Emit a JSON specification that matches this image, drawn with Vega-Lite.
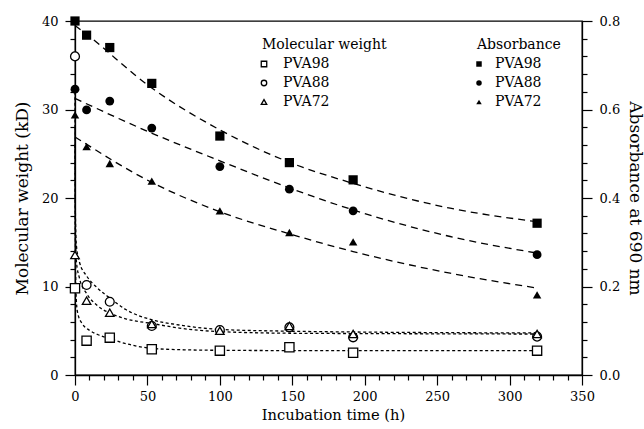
{
  "$schema": "https://vega.github.io/schema/vega-lite/v6.json",
  "width": 507,
  "height": 354,
  "autosize": {"type": "none"},
  "padding": {"left": 75, "top": 21, "right": 62, "bottom": 54},
  "background": "white",
  "config": {
    "font": "DejaVu Serif",
    "view": {"stroke": "black", "strokeWidth": 1.3},
    "axis": {
      "grid": false,
      "domainColor": "black",
      "domainWidth": 1.3,
      "tickColor": "black",
      "tickWidth": 1.2,
      "labelColor": "black",
      "labelFont": "DejaVu Serif",
      "labelFontSize": 13,
      "labelFlush": false,
      "labelOverlap": false,
      "titleColor": "black",
      "titleFont": "DejaVu Serif",
      "titleFontWeight": "normal"
    },
    "legend": {
      "orient": "none",
      "labelFont": "DejaVu Serif",
      "labelFontSize": 14,
      "labelColor": "black",
      "titleFont": "DejaVu Serif",
      "titleFontSize": 14,
      "titleFontWeight": "normal",
      "titleColor": "black",
      "symbolSize": 30,
      "symbolStrokeWidth": 1.3,
      "symbolOffset": -5,
      "rowPadding": 5,
      "titlePadding": 5,
      "padding": 0
    }
  },
  "datasets": {
    "mw_points": [
      {"t": 0, "value": 9.8, "polymer": "PVA98"},
      {"t": 8, "value": 3.88, "polymer": "PVA98"},
      {"t": 24, "value": 4.22, "polymer": "PVA98"},
      {"t": 53, "value": 2.9, "polymer": "PVA98"},
      {"t": 100, "value": 2.75, "polymer": "PVA98"},
      {"t": 148, "value": 3.13, "polymer": "PVA98"},
      {"t": 192, "value": 2.52, "polymer": "PVA98"},
      {"t": 319, "value": 2.75, "polymer": "PVA98"},
      {"t": 0, "value": 36.0, "polymer": "PVA88"},
      {"t": 8, "value": 10.17, "polymer": "PVA88"},
      {"t": 24, "value": 8.28, "polymer": "PVA88"},
      {"t": 53, "value": 5.54, "polymer": "PVA88"},
      {"t": 100, "value": 5.08, "polymer": "PVA88"},
      {"t": 148, "value": 5.39, "polymer": "PVA88"},
      {"t": 192, "value": 4.26, "polymer": "PVA88"},
      {"t": 319, "value": 4.33, "polymer": "PVA88"},
      {"t": 0, "value": 13.56, "polymer": "PVA72"},
      {"t": 8, "value": 8.4, "polymer": "PVA72"},
      {"t": 24, "value": 7.04, "polymer": "PVA72"},
      {"t": 53, "value": 5.76, "polymer": "PVA72"},
      {"t": 100, "value": 5.0, "polymer": "PVA72"},
      {"t": 148, "value": 5.54, "polymer": "PVA72"},
      {"t": 192, "value": 4.63, "polymer": "PVA72"},
      {"t": 319, "value": 4.63, "polymer": "PVA72"}
    ],
    "mw_fit": [
      {"t": 0, "value": 26, "polymer": "PVA98"},
      {"t": 0.4, "value": 12, "polymer": "PVA98"},
      {"t": 1, "value": 8.2, "polymer": "PVA98"},
      {"t": 2, "value": 6.9, "polymer": "PVA98"},
      {"t": 5, "value": 5.8, "polymer": "PVA98"},
      {"t": 10, "value": 5.05, "polymer": "PVA98"},
      {"t": 16, "value": 4.55, "polymer": "PVA98"},
      {"t": 24, "value": 4.1, "polymer": "PVA98"},
      {"t": 40, "value": 3.35, "polymer": "PVA98"},
      {"t": 54, "value": 3.0, "polymer": "PVA98"},
      {"t": 75, "value": 2.85, "polymer": "PVA98"},
      {"t": 100, "value": 2.79, "polymer": "PVA98"},
      {"t": 150, "value": 2.76, "polymer": "PVA98"},
      {"t": 320, "value": 2.75, "polymer": "PVA98"},
      {"t": 0, "value": 32, "polymer": "PVA88"},
      {"t": 0.3, "value": 18, "polymer": "PVA88"},
      {"t": 1, "value": 14.6, "polymer": "PVA88"},
      {"t": 3, "value": 12.8, "polymer": "PVA88"},
      {"t": 8, "value": 11.2, "polymer": "PVA88"},
      {"t": 15, "value": 9.9, "polymer": "PVA88"},
      {"t": 24, "value": 8.7, "polymer": "PVA88"},
      {"t": 35, "value": 7.4, "polymer": "PVA88"},
      {"t": 54, "value": 6.2, "polymer": "PVA88"},
      {"t": 72, "value": 5.65, "polymer": "PVA88"},
      {"t": 100, "value": 5.15, "polymer": "PVA88"},
      {"t": 148, "value": 4.95, "polymer": "PVA88"},
      {"t": 200, "value": 4.85, "polymer": "PVA88"},
      {"t": 320, "value": 4.75, "polymer": "PVA88"},
      {"t": 0, "value": 28, "polymer": "PVA72"},
      {"t": 0.3, "value": 15.5, "polymer": "PVA72"},
      {"t": 1, "value": 12.8, "polymer": "PVA72"},
      {"t": 3, "value": 11, "polymer": "PVA72"},
      {"t": 8, "value": 9.2, "polymer": "PVA72"},
      {"t": 15, "value": 7.9, "polymer": "PVA72"},
      {"t": 24, "value": 7.0, "polymer": "PVA72"},
      {"t": 35, "value": 6.35, "polymer": "PVA72"},
      {"t": 54, "value": 5.8, "polymer": "PVA72"},
      {"t": 72, "value": 5.3, "polymer": "PVA72"},
      {"t": 100, "value": 4.9, "polymer": "PVA72"},
      {"t": 148, "value": 4.72, "polymer": "PVA72"},
      {"t": 200, "value": 4.68, "polymer": "PVA72"},
      {"t": 320, "value": 4.63, "polymer": "PVA72"}
    ],
    "abs_points": [
      {"t": 0, "value": 0.8, "polymer": "PVA98"},
      {"t": 8, "value": 0.768, "polymer": "PVA98"},
      {"t": 24, "value": 0.74, "polymer": "PVA98"},
      {"t": 53, "value": 0.659, "polymer": "PVA98"},
      {"t": 100, "value": 0.54, "polymer": "PVA98"},
      {"t": 148, "value": 0.48, "polymer": "PVA98"},
      {"t": 192, "value": 0.441, "polymer": "PVA98"},
      {"t": 319, "value": 0.343, "polymer": "PVA98"},
      {"t": 0, "value": 0.646, "polymer": "PVA88"},
      {"t": 8, "value": 0.599, "polymer": "PVA88"},
      {"t": 24, "value": 0.619, "polymer": "PVA88"},
      {"t": 53, "value": 0.558, "polymer": "PVA88"},
      {"t": 100, "value": 0.471, "polymer": "PVA88"},
      {"t": 148, "value": 0.42, "polymer": "PVA88"},
      {"t": 192, "value": 0.371, "polymer": "PVA88"},
      {"t": 319, "value": 0.272, "polymer": "PVA88"},
      {"t": 0, "value": 0.588, "polymer": "PVA72"},
      {"t": 8, "value": 0.516, "polymer": "PVA72"},
      {"t": 24, "value": 0.478, "polymer": "PVA72"},
      {"t": 53, "value": 0.438, "polymer": "PVA72"},
      {"t": 100, "value": 0.371, "polymer": "PVA72"},
      {"t": 148, "value": 0.322, "polymer": "PVA72"},
      {"t": 192, "value": 0.301, "polymer": "PVA72"},
      {"t": 319, "value": 0.181, "polymer": "PVA72"}
    ],
    "abs_fit": [
      {"t": 0, "value": 0.79, "polymer": "PVA98"},
      {"t": 8, "value": 0.77, "polymer": "PVA98"},
      {"t": 52, "value": 0.651, "polymer": "PVA98"},
      {"t": 100, "value": 0.554, "polymer": "PVA98"},
      {"t": 147, "value": 0.482, "polymer": "PVA98"},
      {"t": 192, "value": 0.433, "polymer": "PVA98"},
      {"t": 259, "value": 0.377, "polymer": "PVA98"},
      {"t": 320, "value": 0.346, "polymer": "PVA98"},
      {"t": 0, "value": 0.625, "polymer": "PVA88"},
      {"t": 52, "value": 0.548, "polymer": "PVA88"},
      {"t": 100, "value": 0.484, "polymer": "PVA88"},
      {"t": 147, "value": 0.424, "polymer": "PVA88"},
      {"t": 192, "value": 0.373, "polymer": "PVA88"},
      {"t": 259, "value": 0.313, "polymer": "PVA88"},
      {"t": 320, "value": 0.275, "polymer": "PVA88"},
      {"t": 0, "value": 0.538, "polymer": "PVA72"},
      {"t": 52, "value": 0.437, "polymer": "PVA72"},
      {"t": 100, "value": 0.369, "polymer": "PVA72"},
      {"t": 147, "value": 0.32, "polymer": "PVA72"},
      {"t": 192, "value": 0.279, "polymer": "PVA72"},
      {"t": 259, "value": 0.23, "polymer": "PVA72"},
      {"t": 320, "value": 0.196, "polymer": "PVA72"}
    ]
  },
  "layer": [
    {
      "layer": [
        {
          "data": {"name": "mw_fit"},
          "mark": {"type": "line", "interpolate": "monotone", "color": "black", "strokeWidth": 1.3, "strokeDash": [3, 2.5]},
          "encoding": {
            "x": {
              "field": "t", "type": "quantitative",
              "scale": {"domain": [0, 350], "nice": false},
              "axis": {
                "title": "Incubation time (h)",
                "values": [0, 10, 20, 30, 40, 50, 60, 70, 80, 90, 100, 110, 120, 130, 140, 150, 160, 170, 180, 190, 200, 210, 220, 230, 240, 250, 260, 270, 280, 290, 300, 310, 320, 330, 340, 350],
                "labelExpr": "datum.value % 50 === 0 ? datum.label : ''",
                "tickSize": {"condition": {"test": "datum.value % 50 === 0", "value": 10}, "value": 5},
                "labelPadding": 5,
                "titleFontSize": 14.7,
                "titleX": 258,
                "titleY": 40,
                "titleBaseline": "middle"
              }
            },
            "y": {
              "field": "value", "type": "quantitative",
              "scale": {"domain": [0, 40], "nice": false},
              "axis": {
                "orient": "left",
                "title": "Molecular weight (kD)",
                "values": [0, 2, 4, 6, 8, 10, 12, 14, 16, 18, 20, 22, 24, 26, 28, 30, 32, 34, 36, 38, 40],
                "labelExpr": "datum.value % 10 === 0 ? datum.label : ''",
                "tickSize": {"condition": {"test": "datum.value % 10 === 0", "value": 10}, "value": 5},
                "labelPadding": 7,
                "titleFontSize": 17,
                "titleAngle": -90,
                "titleX": -53,
                "titleY": 177,
                "titleBaseline": "middle",
                "titleAlign": "center"
              }
            },
            "detail": {"field": "polymer"}
          }
        },
        {
          "data": {"name": "mw_points"},
          "mark": {"type": "point", "filled": true, "fill": "white", "stroke": "black", "strokeWidth": 1.3, "opacity": 1},
          "encoding": {
            "x": {
              "field": "t", "type": "quantitative",
              "scale": {"domain": [0, 350], "nice": false},
              "axis": {
                "title": "Incubation time (h)",
                "values": [0, 10, 20, 30, 40, 50, 60, 70, 80, 90, 100, 110, 120, 130, 140, 150, 160, 170, 180, 190, 200, 210, 220, 230, 240, 250, 260, 270, 280, 290, 300, 310, 320, 330, 340, 350],
                "labelExpr": "datum.value % 50 === 0 ? datum.label : ''",
                "tickSize": {"condition": {"test": "datum.value % 50 === 0", "value": 10}, "value": 5},
                "labelPadding": 5,
                "titleFontSize": 14.7,
                "titleX": 258,
                "titleY": 40,
                "titleBaseline": "middle"
              }
            },
            "y": {
              "field": "value", "type": "quantitative",
              "scale": {"domain": [0, 40], "nice": false},
              "axis": {
                "orient": "left",
                "title": "Molecular weight (kD)",
                "values": [0, 2, 4, 6, 8, 10, 12, 14, 16, 18, 20, 22, 24, 26, 28, 30, 32, 34, 36, 38, 40],
                "labelExpr": "datum.value % 10 === 0 ? datum.label : ''",
                "tickSize": {"condition": {"test": "datum.value % 10 === 0", "value": 10}, "value": 5},
                "labelPadding": 7,
                "titleFontSize": 17,
                "titleAngle": -90,
                "titleX": -53,
                "titleY": 177,
                "titleBaseline": "middle",
                "titleAlign": "center"
              }
            },
            "size": {
              "field": "polymer", "type": "nominal",
              "scale": {"domain": ["PVA98", "PVA88", "PVA72"], "range": [85, 72, 120]},
              "legend": null
            },
            "shape": {
              "field": "polymer", "type": "nominal",
              "scale": {"domain": ["PVA98", "PVA88", "PVA72"], "range": ["square", "circle", "triangle-up"]},
              "legend": {
                "title": "Molecular weight",
                "legendX": 187,
                "legendY": 17,
                "labelOffset": 12,
                "encode": {
                  "symbols": {
                    "update": {
                      "fill": {"value": "white"},
                      "stroke": {"value": "black"},
                      "strokeWidth": {"value": 1.3},
                      "size": {"value": 30}
                    }
                  }
                }
              }
            }
          }
        }
      ]
    },
    {
      "layer": [
        {
          "data": {"name": "abs_fit"},
          "mark": {"type": "line", "interpolate": "monotone", "color": "black", "strokeWidth": 1.3, "strokeDash": [7, 5]},
          "encoding": {
            "x": {
              "field": "t", "type": "quantitative",
              "scale": {"domain": [0, 350], "nice": false},
              "axis": {
                "title": "Incubation time (h)",
                "values": [0, 10, 20, 30, 40, 50, 60, 70, 80, 90, 100, 110, 120, 130, 140, 150, 160, 170, 180, 190, 200, 210, 220, 230, 240, 250, 260, 270, 280, 290, 300, 310, 320, 330, 340, 350],
                "labelExpr": "datum.value % 50 === 0 ? datum.label : ''",
                "tickSize": {"condition": {"test": "datum.value % 50 === 0", "value": 10}, "value": 5},
                "labelPadding": 5,
                "titleFontSize": 14.7,
                "titleX": 258,
                "titleY": 40,
                "titleBaseline": "middle"
              }
            },
            "y": {
              "field": "value", "type": "quantitative",
              "scale": {"domain": [0, 0.8], "nice": false},
              "axis": {
                "orient": "right",
                "title": "Absorbance at 690 nm",
                "values": [0, 0.04, 0.08, 0.12, 0.16, 0.2, 0.24, 0.28, 0.32, 0.36, 0.4, 0.44, 0.48, 0.52, 0.56, 0.6, 0.64, 0.68, 0.72, 0.76, 0.8],
                "labelExpr": "abs(datum.value * 5 - round(datum.value * 5)) < 0.000001 ? format(datum.value, '.1f') : ''",
                "tickSize": {"condition": {"test": "abs(datum.value * 5 - round(datum.value * 5)) < 0.000001", "value": 10}, "value": 5},
                "labelPadding": 7,
                "titleFontSize": 17,
                "titleAngle": 90,
                "titleX": 52,
                "titleY": 177,
                "titleBaseline": "middle",
                "titleAlign": "center"
              }
            },
            "detail": {"field": "polymer"}
          }
        },
        {
          "data": {"name": "abs_points"},
          "mark": {"type": "point", "filled": true, "color": "black", "opacity": 1},
          "encoding": {
            "x": {
              "field": "t", "type": "quantitative",
              "scale": {"domain": [0, 350], "nice": false},
              "axis": {
                "title": "Incubation time (h)",
                "values": [0, 10, 20, 30, 40, 50, 60, 70, 80, 90, 100, 110, 120, 130, 140, 150, 160, 170, 180, 190, 200, 210, 220, 230, 240, 250, 260, 270, 280, 290, 300, 310, 320, 330, 340, 350],
                "labelExpr": "datum.value % 50 === 0 ? datum.label : ''",
                "tickSize": {"condition": {"test": "datum.value % 50 === 0", "value": 10}, "value": 5},
                "labelPadding": 5,
                "titleFontSize": 14.7,
                "titleX": 258,
                "titleY": 40,
                "titleBaseline": "middle"
              }
            },
            "y": {
              "field": "value", "type": "quantitative",
              "scale": {"domain": [0, 0.8], "nice": false},
              "axis": {
                "orient": "right",
                "title": "Absorbance at 690 nm",
                "values": [0, 0.04, 0.08, 0.12, 0.16, 0.2, 0.24, 0.28, 0.32, 0.36, 0.4, 0.44, 0.48, 0.52, 0.56, 0.6, 0.64, 0.68, 0.72, 0.76, 0.8],
                "labelExpr": "abs(datum.value * 5 - round(datum.value * 5)) < 0.000001 ? format(datum.value, '.1f') : ''",
                "tickSize": {"condition": {"test": "abs(datum.value * 5 - round(datum.value * 5)) < 0.000001", "value": 10}, "value": 5},
                "labelPadding": 7,
                "titleFontSize": 17,
                "titleAngle": 90,
                "titleX": 52,
                "titleY": 177,
                "titleBaseline": "middle",
                "titleAlign": "center"
              }
            },
            "size": {
              "field": "polymer", "type": "nominal",
              "scale": {"domain": ["PVA98", "PVA88", "PVA72"], "range": [85, 72, 120]},
              "legend": null
            },
            "shape": {
              "field": "polymer", "type": "nominal",
              "scale": {"domain": ["PVA98", "PVA88", "PVA72"], "range": ["square", "circle", "triangle-up"]},
              "legend": {
                "title": "Absorbance",
                "legendX": 402,
                "legendY": 17,
                "labelOffset": 9,
                "encode": {
                  "symbols": {
                    "update": {
                      "fill": {"value": "black"},
                      "stroke": {"value": "black"},
                      "size": {"value": 30}
                    }
                  }
                }
              }
            }
          }
        }
      ]
    }
  ],
  "resolve": {"scale": {"y": "independent", "shape": "independent"}}
}
